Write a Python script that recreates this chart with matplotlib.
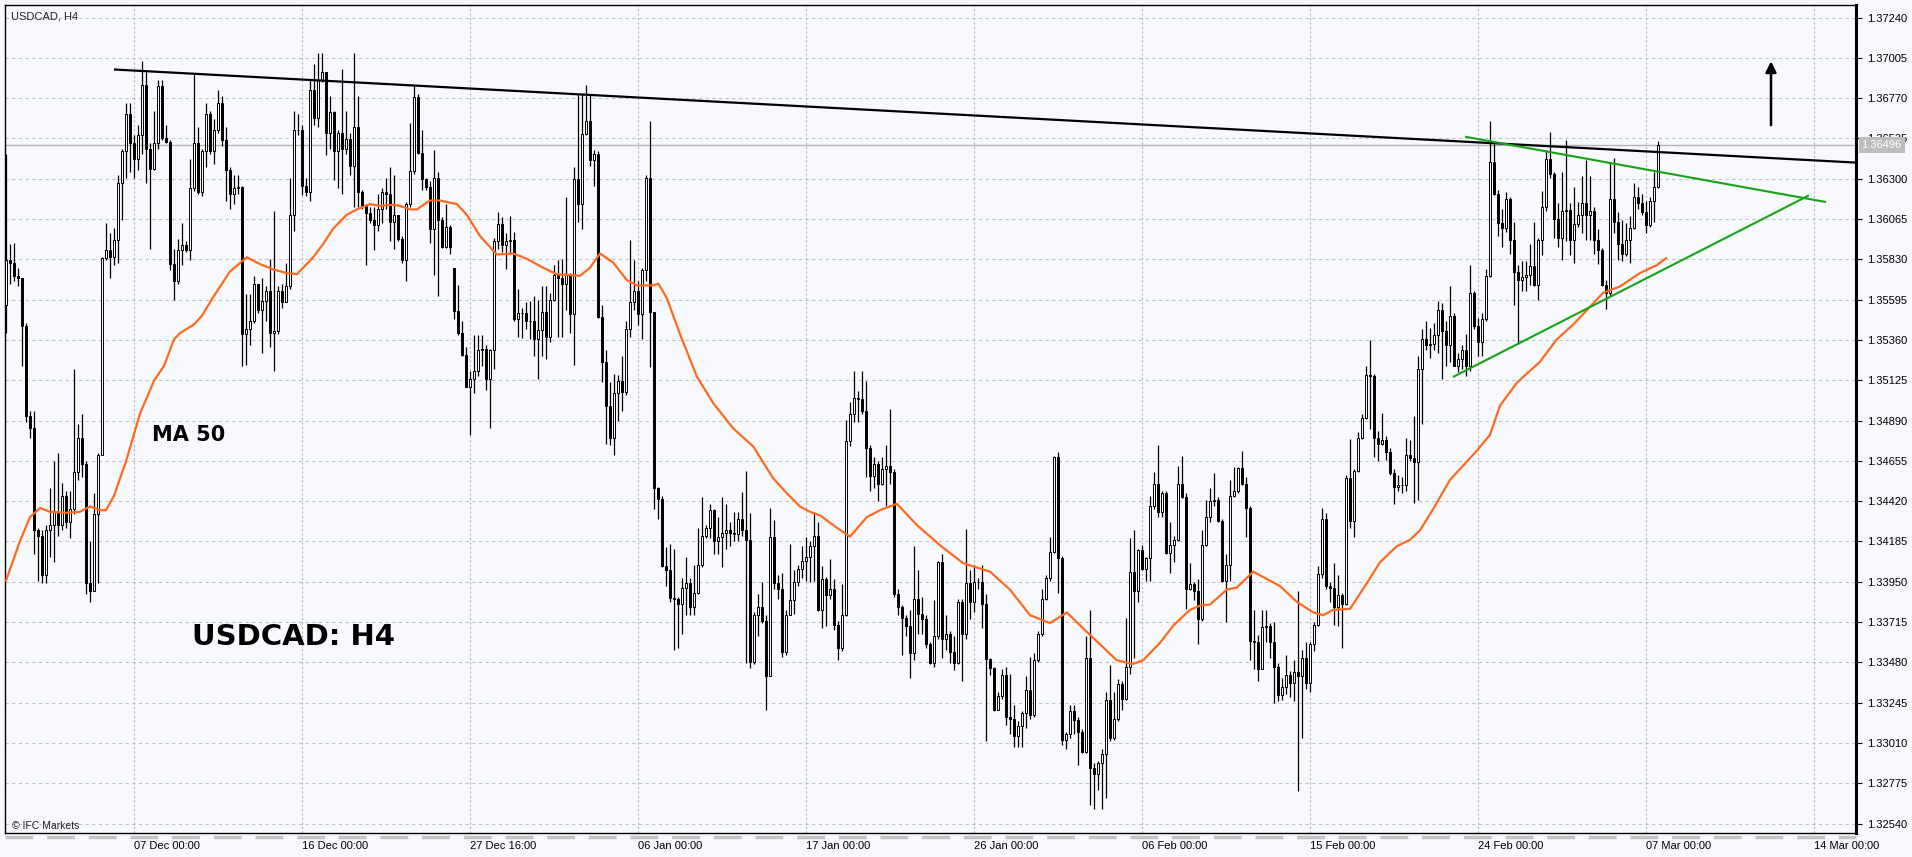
import numpy as np
import matplotlib
matplotlib.use("Agg")
import matplotlib.pyplot as plt
from matplotlib.lines import Line2D
import matplotlib.transforms as mtransforms

# USDCAD H4 candles, prices stored as points above 1.30000 (5827 -> 1.35827)
first_open = 5564
gap_opens = {112: 5781}

close_pts = [
    5827, 5811, 5734, 5719, 5440, 4915, 4844, 4250, 4219, 3987, 4250, 4281, 4358, 4281, 4451, 4296, 4374, 4590, 4791, 4636,
    3941, 3894, 4343, 4689, 5836, 5883, 5842, 5944, 6275, 6461, 6677, 6507, 6414, 6554, 6847, 6476, 6359, 6507, 6841, 6538,
    6513, 5802, 5703, 5883, 5913, 5883, 6244, 6507, 6223, 6461, 6677, 6461, 6584, 6739, 6523, 6353, 6213, 6244, 6254, 5394,
    5425, 5471, 5688, 5533, 5586, 5648, 5400, 5410, 5648, 5580, 5672, 6090, 6584, 6584, 6260, 6223, 6816, 6656, 6878, 6925,
    6569, 6687, 6461, 6569, 6476, 6532, 6377, 6600, 6223, 6142, 6099, 6059, 6028, 6121, 6223, 6213, 6050, 6090, 5951, 5827,
    6152, 6346, 6779, 6451, 6297, 6254, 6006, 6306, 6059, 5904, 6019, 5904, 5526, 5400, 5270, 5085, 5131, 5178, 5301, 5307,
    5131, 5301, 5935, 6037, 5913, 5935, 5944, 5481, 5518, 5518, 5471, 5471, 5363, 5419, 5524, 5379, 5595, 5740, 5719, 5688,
    5740, 5512, 6297, 6152, 6563, 6637, 6408, 6445, 5493, 5233, 4977, 4791, 5048, 5122, 5054, 5425, 5580, 5648, 5512, 5765,
    6306, 5524, 4497, 4431, 4040, 4018, 3854, 3848, 3823, 3916, 3941, 3802, 3885, 4049, 4219, 4265, 4367, 4188, 4213, 4235,
    4250, 4235, 4228, 4318, 4250, 4194, 3483, 3755, 3802, 3724, 3400, 4213, 3941, 3910, 3539, 3755, 3842, 3947, 4027, 4071,
    4095, 4157, 4219, 3786, 3965, 3873, 3910, 3700, 3564, 3755, 4770, 4930, 5023, 5017, 4946, 4729, 4565, 4636, 4522, 4608,
    4627, 4590, 3879, 3802, 3740, 3694, 3533, 3848, 3761, 3731, 3585, 3477, 3632, 4064, 3616, 3647, 3539, 3477, 3833, 3647,
    3941, 3833, 3947, 3947, 3823, 3502, 3446, 3205, 3285, 3409, 3162, 3152, 3050, 3106, 3183, 3316, 3174, 3492, 3647, 3848,
    3972, 4126, 4677, 4089, 3029, 3060, 3199, 3143, 3075, 2958, 3508, 2865, 2828, 2896, 2945, 3261, 3038, 3152, 3353, 3267,
    3452, 4009, 3894, 4133, 4027, 4089, 4389, 4522, 4358, 4466, 4120, 4163, 4194, 4522, 4442, 3910, 3935, 3894, 3731, 4163,
    4327, 4420, 4429, 4306, 3956, 4049, 4451, 4482, 4615, 4522, 4380, 3607, 3600, 3440, 3687, 3694, 3601, 3452, 3292, 3338,
    3409, 3360, 3421, 3400, 3508, 3360, 3585, 3700, 3997, 4318, 3925, 3916, 3802, 3873, 3823, 4553, 4306, 4596, 4791, 4906,
    5153, 5147, 4791, 4751, 4776, 4708, 4584, 4504, 4513, 4513, 4689, 4670, 4646, 5193, 5363, 5332, 5338, 5388, 5533, 5410,
    5332, 5502, 5209, 5246, 5301, 5209, 5635, 5440, 5348, 5481, 5734, 6399, 6213, 6043, 6012, 6183, 5944, 5759, 5709, 5728,
    5740, 5790, 5679, 5944, 6136, 6414, 6328, 6068, 5957, 6111, 6120, 5944, 6037, 6090, 6161, 6090, 6111, 5944, 5883, 5679,
    5635, 6183, 6050, 5920, 5864, 5944, 6012, 6192, 6161, 6105, 6028, 6173, 6254, 6496,
]

high_pts = [
    6445, 5920, 5926, 5781, 5719, 5456, 4946, 4946, 4265, 4250, 4281, 4497, 4652, 4698, 4528, 4482, 4482, 5193, 4868, 4930,
    4652, 4188, 4466, 4698, 5842, 6043, 5981, 6012, 6322, 6476, 6739, 6739, 6554, 6615, 6986, 6925, 6507, 6693, 6878, 6878,
    6615, 6523, 5889, 5951, 6043, 5935, 6414, 6909, 6600, 6476, 6739, 6693, 6646, 6816, 6785, 6600, 6368, 6322, 6322, 6260,
    5626, 5626, 5734, 5688, 5719, 5672, 5833, 6111, 5672, 5688, 5811, 6306, 6693, 6677, 6615, 6306, 6878, 6971, 7033, 7033,
    6925, 6785, 6693, 6584, 6940, 6693, 6569, 7033, 6785, 6235, 6152, 6136, 6136, 6213, 6244, 6306, 6368, 6322, 6090, 5966,
    6167, 6625, 6847, 6792, 6584, 6306, 6285, 6470, 6337, 6074, 6152, 6028, 5781, 5678, 5471, 5317, 5178, 5388, 5388, 5388,
    5332, 5307, 5957, 6105, 6074, 5981, 6081, 5988, 5657, 5549, 5580, 5586, 5617, 5595, 5672, 5672, 5635, 5796, 5827, 5833,
    6192, 5750, 6368, 6792, 6792, 6847, 6792, 6470, 6461, 5564, 5300, 5116, 5162, 5153, 5264, 5471, 5944, 5827, 5703, 5781,
    6322, 6637, 5518, 4504, 4451, 4151, 4173, 4142, 3863, 3972, 4095, 3972, 4049, 4265, 4442, 4281, 4405, 4374, 4327, 4442,
    4405, 4296, 4358, 4358, 4473, 4596, 4349, 3771, 3879, 3947, 3755, 4380, 4312, 3987, 4003, 3786, 4173, 4018, 4049, 4157,
    4213, 4188, 4358, 4296, 4040, 3978, 4080, 3966, 3724, 3935, 4893, 4998, 5178, 5060, 5178, 5122, 4745, 4677, 4652, 4677,
    4745, 4955, 4606, 3910, 3817, 3755, 3786, 4157, 4018, 3863, 3755, 3601, 3842, 4071, 4111, 3755, 3664, 3632, 3848, 3848,
    4256, 4018, 4049, 3972, 4049, 3879, 3508, 3452, 3307, 3440, 3452, 3415, 3230, 3137, 3199, 3400, 3514, 3533, 3662, 3910,
    3987, 4213, 4683, 4708, 4102, 3075, 3230, 3230, 3162, 3091, 3632, 3786, 2896, 2905, 2976, 3307, 3462, 3307, 3384, 3369,
    3740, 4204, 4250, 4142, 4163, 4095, 4451, 4590, 4745, 4482, 4482, 4296, 4219, 4627, 4683, 4466, 4058, 3947, 3966, 4250,
    4429, 4497, 4584, 4442, 4318, 4111, 4544, 4621, 4621, 4714, 4559, 4389, 3786, 3638, 3786, 3786, 3709, 3718, 3477, 3390,
    3523, 3431, 3493, 3894, 3554, 3601, 3601, 3718, 4040, 4380, 4349, 3947, 4058, 3987, 3885, 4575, 4782, 4606, 4822, 4930,
    5209, 5357, 5162, 4831, 4936, 4800, 4729, 4606, 4575, 4559, 4791, 4776, 4915, 5264, 5425, 5471, 5431, 5456, 5586, 5573,
    5471, 5672, 5518, 5286, 5332, 5394, 5796, 5648, 5487, 5518, 5771, 6637, 6501, 6235, 6121, 6223, 6192, 6050, 5796, 5821,
    5821, 5920, 6050, 5957, 6229, 6470, 6575, 6337, 6161, 6337, 6523, 6161, 6254, 6167, 6316, 6408, 6316, 6136, 6006, 5895,
    5709, 6390, 6421, 6105, 6059, 6043, 6081, 6275, 6254, 6213, 6173, 6192, 6337, 6520,
]

low_pts = [
    5400, 5688, 5703, 5672, 5209, 4884, 4791, 4111, 3956, 3941, 3941, 4095, 4064, 4219, 4250, 4265, 4204, 4343, 4544, 4559,
    3879, 3834, 4064, 3941, 4714, 5827, 5719, 5796, 5811, 6059, 6306, 6337, 6306, 6353, 6445, 6275, 5889, 6353, 6476, 6523,
    6507, 5765, 5595, 5688, 5796, 5873, 5827, 6229, 6213, 6198, 6370, 6445, 6384, 6569, 6492, 6173, 6121, 6152, 6213, 5209,
    5215, 5332, 5456, 5518, 5286, 5471, 5317, 5178, 5394, 5549, 5580, 5657, 5997, 6554, 6204, 6198, 6173, 6615, 6600, 6863,
    6439, 6476, 6291, 6244, 6213, 6445, 6322, 6136, 6136, 6121, 5796, 6043, 5883, 5997, 6043, 6121, 5935, 5889, 5935, 5811,
    5703, 6136, 6328, 6445, 6235, 6235, 5926, 5740, 5617, 5895, 5895, 5860, 5481, 5388, 5264, 5085, 4807, 5048, 5147, 5209,
    5069, 4844, 5193, 5889, 5873, 5771, 5864, 5471, 5379, 5370, 5425, 5363, 5264, 5131, 5264, 5246, 5348, 5586, 5379, 5379,
    5533, 5400, 5215, 6050, 6006, 6554, 6377, 6260, 5487, 5116, 4751, 4745, 4689, 4886, 4946, 5038, 5379, 5533, 5450, 5363,
    5703, 5202, 4374, 4318, 4034, 3925, 3833, 3554, 3564, 3647, 3755, 3755, 3755, 3879, 4034, 4204, 4204, 4111, 4111, 4034,
    4142, 4157, 4188, 4188, 4219, 3477, 3446, 3471, 3632, 3709, 3205, 3400, 3910, 3848, 3514, 3523, 3755, 3761, 3925, 3972,
    3956, 3947, 3956, 3780, 3678, 3693, 3848, 3669, 3492, 3545, 3749, 4739, 4884, 4884, 4930, 4559, 4482, 4497, 4420, 4513,
    4389, 4522, 3864, 3755, 3523, 3632, 3390, 3492, 3647, 3647, 3564, 3471, 3452, 3616, 3508, 3554, 3477, 3433, 3471, 3369,
    3616, 3731, 3771, 3910, 3678, 3019, 3409, 3199, 3212, 3267, 3113, 3060, 2988, 2988, 2988, 3100, 3152, 3162, 3483, 3632,
    3842, 3956, 4120, 3885, 2998, 2976, 3038, 3060, 2883, 2951, 2951, 2648, 2627, 2735, 2627, 2688, 3019, 3029, 3137, 3205,
    3261, 3415, 3508, 3833, 4018, 3956, 3956, 4374, 4327, 4327, 4111, 4003, 4064, 4188, 4436, 3792, 3904, 3842, 3587, 3724,
    4157, 4296, 4389, 4296, 3947, 3718, 3956, 4442, 4466, 4513, 4213, 3492, 3440, 3369, 3440, 3601, 3508, 3245, 3254, 3261,
    3298, 3276, 3254, 2729, 3038, 3322, 3307, 3545, 3693, 3972, 3910, 3833, 3700, 3694, 3564, 3817, 4265, 4213, 4590, 4782,
    4899, 4838, 4677, 4652, 4745, 4658, 4575, 4405, 4482, 4466, 4482, 4652, 4411, 4429, 4868, 5301, 5255, 5301, 5286, 5131,
    5209, 5233, 5209, 5171, 5193, 5147, 5178, 5425, 5264, 5264, 5471, 5728, 6204, 5966, 5904, 5988, 5864, 5564, 5338, 5648,
    5648, 5679, 5672, 5595, 5858, 6111, 6306, 5957, 5904, 5827, 5935, 5858, 5811, 6019, 5981, 5944, 5944, 5864, 5802, 5672,
    5543, 5617, 5981, 5827, 5821, 5852, 5811, 6006, 6121, 6090, 5981, 6019, 6050, 6244,
]

# MA 50 (bar position, points above 1.3)
ma_bar = [0, 3.5, 6, 8.5, 11, 15, 18.5, 21, 23.5, 25, 27, 30, 33.5, 37, 39.5, 42, 43.5, 47, 49, 51.8,
          56, 60.2, 63.5, 66.8, 70.2, 72.7, 74.3, 76.8, 79.3, 81.8, 85.2, 87.7, 91, 93.5, 96.8, 98.5, 101, 102.7,
          106, 108.5, 112.7, 115.2, 118.5, 122.7, 126.8, 130.2, 134.3, 137.7, 143.5, 146, 148.5, 151.8, 155.2,
          157.7, 161.8, 163.1, 165.2, 168.5, 172.7, 176.8, 181.8, 186.8, 191.8, 195.2, 198.5, 201, 203.5, 207.7,
          211, 215.2, 218.5, 222.7, 227.7, 233.5, 239.3, 243.5, 246, 248.5, 251, 256, 261, 265.2, 269.3, 273.5,
          277.7, 281.8, 284.3, 288.5, 291.8, 296, 298.5, 301, 305.2, 307.7, 311.8, 315.2, 318.5, 322.7, 326.8,
          329.3, 331.8, 336, 340.2, 343.5, 347.7, 351, 353.5, 356.8, 361, 367.7, 371, 373.5, 377.7, 383.5, 387.7,
          391.8, 395.2, 399.3, 403.5, 408.5, 412.7, 415]
ma_pts = [3956, 4188, 4327, 4380, 4358, 4352, 4358, 4389, 4367, 4367, 4451, 4652, 4930, 5122, 5209, 5363, 5400, 5450, 5502, 5610,
          5759, 5842, 5802, 5771, 5750, 5743, 5781, 5842, 5920, 6009, 6090, 6121, 6152, 6142, 6148, 6142, 6121, 6121,
          6173, 6173, 6152, 6090, 5966, 5858, 5864, 5833, 5781, 5743, 5734, 5781, 5864, 5811, 5709,
          5678, 5678, 5688, 5604, 5394, 5147, 4992, 4844, 4739, 4553, 4466, 4389, 4358, 4337, 4265,
          4213, 4327, 4367, 4405, 4281, 4163, 4058, 4027, 4009, 3956, 3904, 3755, 3709, 3771, 3678, 3585,
          3492, 3471, 3492, 3594, 3694, 3786, 3811, 3817, 3904, 3916, 4009, 3966, 3925, 3833, 3771,
          3755, 3786, 3792, 3941, 4064, 4157, 4194, 4250, 4374, 4544, 4714, 4807, 4977, 5110, 5233, 5363,
          5450, 5533, 5635, 5672, 5750, 5796, 5836]

price_ticks = [1.37240, 1.37005, 1.36770, 1.36535, 1.36300, 1.36065, 1.35830, 1.35595, 1.35360, 1.35125, 1.34890,
               1.34655, 1.34420, 1.34185, 1.33950, 1.33715, 1.33480, 1.33245, 1.33010, 1.32775, 1.32540]
date_bars = [32, 74, 116, 158, 200, 242, 284, 326, 368, 410, 452]
date_labels = ["07 Dec 00:00", "16 Dec 00:00", "27 Dec 16:00", "06 Jan 00:00", "17 Jan 00:00", "26 Jan 00:00",
               "06 Feb 00:00", "15 Feb 00:00", "24 Feb 00:00", "07 Mar 00:00", "14 Mar 00:00"]
bid = 1.36496

# trend lines (bar, price)
resist_line = ([27, 462.5], [1.36937, 1.36394])
upper_green = ([365, 454.75], [1.36544, 1.36165])
lower_green = ([362, 450.5], [1.35147, 1.36200])

bg = "#F7F9FD"
plt.rcParams["font.family"] = ["Liberation Sans", "DejaVu Sans"]

c = np.array(close_pts) / 1e5 + 1.3
h = np.array(high_pts) / 1e5 + 1.3
l = np.array(low_pts) / 1e5 + 1.3
o = np.empty_like(c)
o[0] = first_open / 1e5 + 1.3
o[1:] = c[:-1]
for k, v in gap_opens.items():
    o[k] = v / 1e5 + 1.3
h = np.maximum(h, np.maximum(o, c))
l = np.minimum(l, np.minimum(o, c))
idx = np.arange(len(c))

W, H = 1912, 857
fig = plt.figure(figsize=(W / 100, H / 100), dpi=100, facecolor=bg)
ax = fig.add_axes([5 / W, (H - 833) / H, (1856 - 5) / W, (833 - 5) / H], facecolor=bg)

ax.set_xlim(-0.25, 462.5)
ax.set_ylim(1.32485, 1.37313)

# grid
for p in price_ticks:
    ax.axhline(p, color="#BFC3C8", lw=0.8, ls=(0, (3, 3)), zorder=0)
for b in date_bars:
    ax.axvline(b, color="#B5B8BD", lw=0.8, ls=(0, (2, 2)), zorder=0)

ax.axhline(bid, color="#B4B4B4", lw=1.0, zorder=1)

# candles
ax.vlines(idx, l, h, color="black", lw=0.9, zorder=2)
bull = c >= o
body = np.maximum(np.abs(c - o), 0.000015)
ax.bar(idx, body, bottom=np.minimum(o, c), width=0.5,
       color=np.where(bull, "white", "black"), edgecolor="black", lw=0.7, zorder=3)

ax.plot(ma_bar, np.array(ma_pts) / 1e5 + 1.3, color="#FF6A21", lw=1.6, zorder=4)

ax.plot(*resist_line, color="black", lw=1.6, zorder=5, solid_capstyle="butt")
ax.plot(*upper_green, color="#17A317", lw=1.5, zorder=5)
ax.plot(*lower_green, color="#17A317", lw=1.5, zorder=5)

ax.annotate("", xy=(441.25, 1.37001), xytext=(441.25, 1.36596),
            arrowprops=dict(arrowstyle="-|>", color="black", lw=1.8, mutation_scale=16))

ax.text(36.5, 1.34806, "MA 50", fontsize=15, fontweight="bold", family="DejaVu Sans",
        va="center", ha="left", zorder=6)
ax.text(46.5, 1.33628, "USDCAD: H4", fontsize=21, fontweight="bold", family="DejaVu Sans",
        va="center", ha="left", zorder=6)
ax.text(0.003, 0.986, "USDCAD, H4", transform=ax.transAxes, fontsize=8, va="center", ha="left",
        color="#222222")
ax.text(0.004, 0.009, "\u00a9 IFC Markets", transform=ax.transAxes, fontsize=7.5, va="center",
        ha="left", color="#222222")

# axes, ticks
for s in ["left", "top", "bottom"]:
    ax.spines[s].set_color("black")
    ax.spines[s].set_linewidth(1.0)
ax.spines["right"].set_linewidth(2.2)
ax.yaxis.tick_right()
ax.set_yticks(price_ticks)
ax.set_yticklabels([f"{p:.5f}" for p in price_ticks])
ax.tick_params(axis="y", length=4, width=0.8, pad=4, labelsize=8, colors="black")
ax.set_xticks(date_bars)
ax.set_xticklabels(date_labels, ha="left")
ax.tick_params(axis="x", length=0, pad=6, labelsize=8)

# bid price tag
tr = mtransforms.blended_transform_factory(ax.transAxes, ax.transData)
ax.text(1.003, bid, "1.36496", transform=tr, fontsize=8, color="white", va="center", ha="left",
        bbox=dict(boxstyle="square,pad=0.25", fc="#BDBDBD", ec="none"), zorder=10, clip_on=False)

# time scale strip under the chart
fig.add_artist(Line2D([5 / W, 1856 / W], [1 - 837 / H, 1 - 837 / H], transform=fig.transFigure,
                      color="#C4C4C4", lw=2.5, ls=(0, (8, 4))))

fig.savefig("out.png", dpi=100, facecolor=bg)
